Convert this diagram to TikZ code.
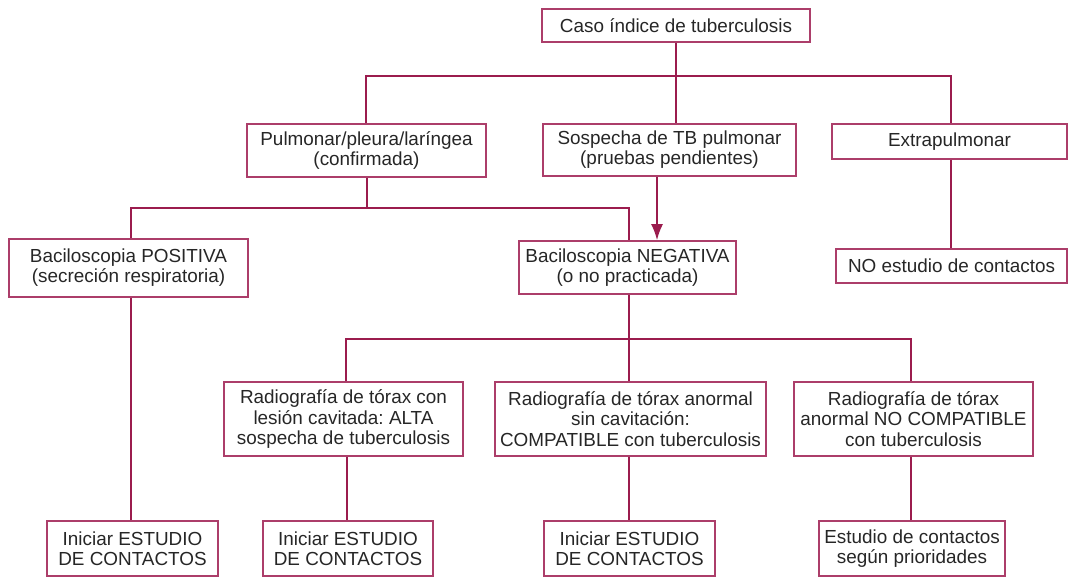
\documentclass[tikz,border=0pt]{standalone}
\usepackage{fontspec}
\setmainfont{Liberation Sans}
\usepackage{tikz}
\usetikzlibrary{arrows.meta}
\usetikzlibrary{positioning}
\frenchspacing

\definecolor{tbline}{RGB}{155,28,78}
\definecolor{tbbox}{RGB}{172,62,106}
\definecolor{tbtext}{RGB}{38,38,38}

\tikzset{
    tbnode/.style={draw=tbbox, line width=0.9pt, rectangle, align=center,
        inner sep=0pt, text=tbtext, font=\fontsize{9.45}{10.1}\selectfont},
    tblink/.style={draw=tbline, line width=0.75pt},
    tbarrow/.style={tblink, -{Latex[length=8pt,width=6pt]}}
}

\begin{document}
\begin{tikzpicture}[x=0.5pt, y=-0.5pt]
    \useasboundingbox (0,0) rectangle (1068,577);

    \node[tbnode, minimum width=134pt, minimum height=16.5pt] (caso) at (676,25.5) {Caso índice de tuberculosis};

    \node[tbnode, minimum width=119.5pt, minimum height=26.5pt] (pulm) at (366.5,150.5) {Pulmonar/pleura/laríngea\\(confirmada)};
    \node[tbnode, minimum width=126.5pt, minimum height=26pt] (sosp) at (669.5,150) {Sospecha de TB pulmonar\\(pruebas pendientes)};
    \node[tbnode, minimum width=117.5pt, minimum height=17.5pt] (extra) at (949.5,141.5) {Extrapulmonar};

    \node[tbnode, minimum width=119.5pt, minimum height=29pt] (posit) at (128.5,268) {Baciloscopia POSITIVA\\(secreción respiratoria)};
    \node[tbnode, minimum width=108.5pt, minimum height=26.5pt] (negat) at (627.5,267.5) {Baciloscopia NEGATIVA\\(o no practicada)};
    \node[tbnode, minimum width=115.5pt, minimum height=17pt] (noest) at (951.5,266) {NO estudio de contactos};

    \node[tbnode, minimum width=119.5pt, minimum height=37pt] (rada) at (343.5,419) {Radiografía de tórax con\\lesión cavitada: ALTA\\sospecha de tuberculosis};
    \node[tbnode, minimum width=135.5pt, minimum height=37pt] (radb) at (630.5,419) {Radiografía de tórax anormal\\sin cavitación:\\COMPATIBLE con tuberculosis};
    \node[tbnode, minimum width=119.5pt, minimum height=37pt] (radc) at (913.5,419) {Radiografía de tórax\\anormal NO COMPATIBLE\\con tuberculosis};

    \node[tbnode, minimum width=85.5pt, minimum height=27.5pt] (inia) at (132.5,548.5) {Iniciar ESTUDIO\\DE CONTACTOS};
    \node[tbnode, minimum width=85pt, minimum height=27.5pt] (inib) at (348,548.5) {Iniciar ESTUDIO\\DE CONTACTOS};
    \node[tbnode, minimum width=85.5pt, minimum height=27.5pt] (inic) at (629.5,548.5) {Iniciar ESTUDIO\\DE CONTACTOS};
    \node[tbnode, minimum width=93pt, minimum height=27.5pt] (prio) at (912,548.5) {Estudio de contactos\\según prioridades};

    % first split
    \coordinate (ja) at (676,76);
    \coordinate (jal) at (366,76);
    \coordinate (jar) at (951,76);
    \draw[tblink] (caso.south) -- (ja);
    \draw[tblink] (jal |- pulm.north) -- (jal) -- (jar) -- (jar |- extra.north);
    \draw[tblink] (ja) -- (ja |- sosp.north);

    % baciloscopia
    \coordinate (jb) at (367,208);
    \coordinate (jbl) at (131,208);
    \coordinate (jbr) at (629,208);
    \draw[tblink] (jb |- pulm.south) -- (jb);
    \draw[tblink] (jbl |- posit.north) -- (jbl) -- (jbr) -- (jbr |- negat.north);
    \draw[tbarrow] (sosp.south -| 657,0) -- (negat.north -| 657,0);
    \draw[tblink] (jar |- extra.south) -- (jar |- noest.north);

    % radiografia
    \coordinate (jc) at (629,339);
    \coordinate (jcl) at (346,339);
    \coordinate (jcr) at (911,339);
    \draw[tblink] (negat.south -| jc) -- (jc);
    \draw[tblink] (jcl |- rada.north) -- (jcl) -- (jcr) -- (jcr |- radc.north);
    \draw[tblink] (jc) -- (jc |- radb.north);

    % contactos
    \draw[tblink] (jbl |- posit.south) -- (jbl |- inia.north);
    \draw[tblink] (rada.south -| 347,0) -- (inib.north -| 347,0);
    \draw[tblink] (jc |- radb.south) -- (jc |- inic.north);
    \draw[tblink] (jcr |- radc.south) -- (jcr |- prio.north);
\end{tikzpicture}
\end{document}
